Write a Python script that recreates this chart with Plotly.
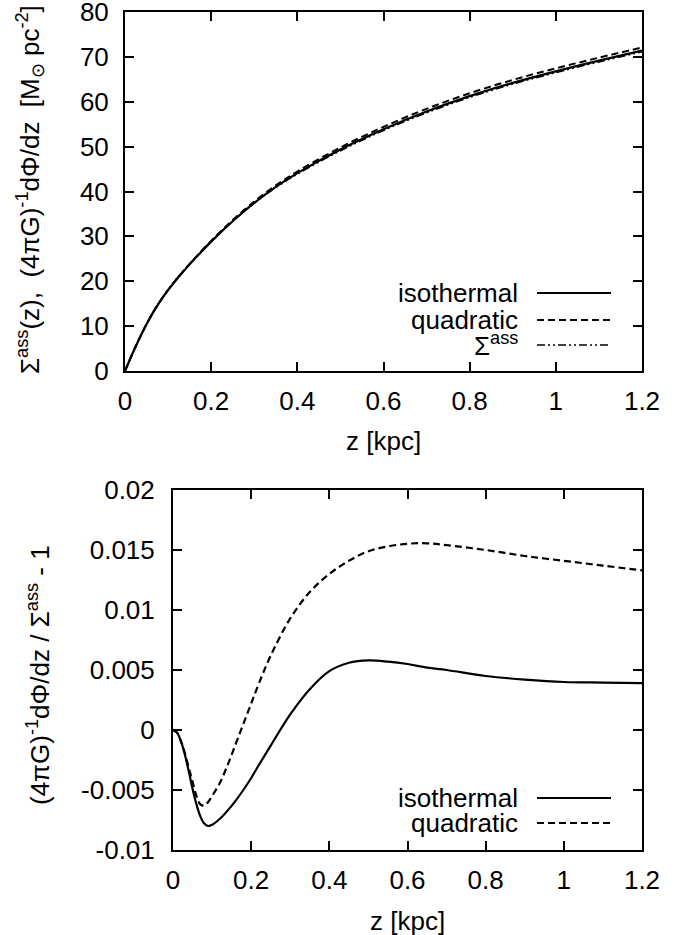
import plotly.graph_objects as go

# ---------------- data ----------------
z_top = [0, 0.025, 0.05, 0.075, 0.1, 0.125, 0.15, 0.2, 0.25, 0.3, 0.35, 0.4, 0.5, 0.6, 0.7, 0.8, 0.9, 1.0, 1.1, 1.2]
sigma_ass = [0, 5.53, 10.49, 14.68, 18.16, 21.17, 23.91, 28.94, 33.42, 37.40, 40.88, 43.88, 49.08, 53.58,
             57.53, 60.98, 63.93, 66.50, 68.88, 71.13]
sigma_iso = [0, 5.52, 10.44, 14.57, 18.02, 21.02, 23.76, 28.83, 33.38, 37.45, 41.02, 44.09, 49.36, 53.87,
             57.82, 61.25, 64.20, 66.77, 69.15, 71.41]
sigma_quad = [0, 5.52, 10.44, 14.59, 18.06, 21.09, 23.86, 29.00, 33.63, 37.75, 41.35, 44.45, 49.81, 54.41,
              58.42, 61.89, 64.86, 67.44, 69.82, 72.08]

z_bot = [0, 0.01, 0.02, 0.03, 0.04, 0.05, 0.06, 0.07, 0.08, 0.09, 0.1, 0.12, 0.14, 0.16, 0.18, 0.2,
         0.22, 0.25, 0.3, 0.35, 0.4, 0.45, 0.5, 0.55, 0.6, 0.65, 0.7, 0.8, 0.9, 1.0, 1.1, 1.2]
dev_iso = [0, -0.0002, -0.0009, -0.0020, -0.0034, -0.0049, -0.0062, -0.0072, -0.0078, -0.0080, -0.0079,
           -0.0074, -0.0067, -0.0059, -0.0050, -0.0040, -0.0029, -0.0013, 0.0013, 0.0034, 0.0049, 0.0056,
           0.0058, 0.0057, 0.0055, 0.0052, 0.0050, 0.0045, 0.0042, 0.0040, 0.00395, 0.0039]
dev_quad = [0, -0.0002, -0.0009, -0.0019, -0.0031, -0.0043, -0.0055, -0.0062, -0.0063, -0.0060, -0.0055,
            -0.0044, -0.0029, -0.0012, 0.0005, 0.0022, 0.0039, 0.0062, 0.0093, 0.0115, 0.0130, 0.0141,
            0.0149, 0.0153, 0.01552, 0.01556, 0.0154, 0.0150, 0.0145, 0.0141, 0.0137, 0.0133]

x_ticks = [0, 0.2, 0.4, 0.6, 0.8, 1, 1.2]
x_ticklabels = ["0", "0.2", "0.4", "0.6", "0.8", "1", "1.2"]
top_yticks = [0, 10, 20, 30, 40, 50, 60, 70, 80]
bot_yticks = [-0.01, -0.005, 0, 0.005, 0.01, 0.015, 0.02]
bot_yticklabels = ["-0.01", "-0.005", "0", "0.005", "0.01", "0.015", "0.02"]

FONT = "Liberation Sans, Arial, sans-serif"
FS = 26
W, H = 694, 935


def px(x):
    return x / W


def py(y):
    return 1 - y / H


DASH = "7px,4px"
DASHDOT2 = "8px,3px,2px,3px,2px,3px"

fig = go.Figure()

fig.add_trace(go.Scatter(x=z_top, y=sigma_ass, mode="lines",
                         line=dict(color="black", width=1.5, dash=DASHDOT2, shape="spline"),
                         xaxis="x", yaxis="y", showlegend=False))
fig.add_trace(go.Scatter(x=z_top, y=sigma_quad, mode="lines",
                         line=dict(color="black", width=2, dash=DASH, shape="spline"),
                         xaxis="x", yaxis="y", showlegend=False))
fig.add_trace(go.Scatter(x=z_top, y=sigma_iso, mode="lines",
                         line=dict(color="black", width=2.2, shape="spline"),
                         xaxis="x", yaxis="y", showlegend=False))

fig.add_trace(go.Scatter(x=z_bot, y=dev_iso, mode="lines",
                         line=dict(color="black", width=2.2, shape="spline"),
                         xaxis="x2", yaxis="y2", showlegend=False))
fig.add_trace(go.Scatter(x=z_bot, y=dev_quad, mode="lines",
                         line=dict(color="black", width=2.2, dash=DASH, shape="spline"),
                         xaxis="x2", yaxis="y2", showlegend=False))

axis_common = dict(showline=True, linecolor="black", linewidth=2, mirror="ticks", ticks="inside",
                   ticklen=9, tickwidth=1.5, tickcolor="black", showgrid=False, zeroline=False,
                   automargin=False, ticklabeloverflow="allow",
                   tickfont=dict(family=FONT, size=FS, color="black"))

fig.update_layout(
    width=W, height=H,
    margin=dict(l=0, r=0, t=0, b=0),
    paper_bgcolor="white", plot_bgcolor="white",
    xaxis=dict(domain=[px(125), px(642)], range=[0, 1.2], anchor="y", tickvals=x_ticks,
               ticktext=x_ticklabels, ticklabelstandoff=6, **axis_common),
    yaxis=dict(domain=[py(371), py(12)], range=[0, 80], anchor="x", tickvals=top_yticks,
               ticklabelstandoff=9, **axis_common),
    xaxis2=dict(domain=[px(173), px(642)], range=[0, 1.2], anchor="y2", tickvals=x_ticks,
                ticktext=x_ticklabels, ticklabelstandoff=6, **axis_common),
    yaxis2=dict(domain=[py(850), py(490)], range=[-0.01, 0.02], anchor="x2", tickvals=bot_yticks,
                ticktext=bot_yticklabels, ticklabelstandoff=11, **axis_common),
)

annotations = []
# axis titles
annotations.append(dict(text="z [kpc]", x=px(383.5), y=py(441), xref="paper", yref="paper",
                        xanchor="center", yanchor="middle",
                        showarrow=False, font=dict(family=FONT, size=FS, color="black")))
annotations.append(dict(text="z [kpc]", x=px(407.5), y=py(921), xref="paper", yref="paper",
                        xanchor="center", yanchor="middle",
                        showarrow=False, font=dict(family=FONT, size=FS, color="black")))
annotations.append(dict(text="Σ<sup>ass</sup>(z),  (4πG)<sup>-1</sup>dΦ/dz  [M<sub>⊙</sub> pc<sup>-2</sup>]",
                        x=px(30), y=py(190), xref="paper", yref="paper", textangle=-90,
                        xanchor="center", yanchor="middle",
                        showarrow=False, font=dict(family=FONT, size=FS, color="black")))
annotations.append(dict(text="(4πG)<sup>-1</sup>dΦ/dz / Σ<sup>ass</sup> - 1",
                        x=px(38), y=py(675), xref="paper", yref="paper", textangle=-90,
                        xanchor="center", yanchor="middle",
                        showarrow=False, font=dict(family=FONT, size=FS, color="black")))

# custom legends (text right-aligned, line sample to the right)
shapes = []


def legend_row(label, ycen, dash, width):
    annotations.append(dict(text=label, x=px(520), y=py(ycen), xref="paper", yref="paper",
                            xanchor="right", yanchor="middle", showarrow=False,
                            font=dict(family=FONT, size=FS, color="black")))
    shapes.append(dict(type="line", xref="paper", yref="paper", x0=px(537), x1=px(611),
                       y0=py(ycen), y1=py(ycen), line=dict(color="black", width=width, dash=dash)))


legend_row("isothermal", 293, "solid", 2.2)
legend_row("quadratic", 320, DASH, 2.2)
legend_row("Σ<sup>ass</sup>", 345, DASHDOT2, 1.5)
legend_row("isothermal", 798, "solid", 2.2)
legend_row("quadratic", 823, DASH, 2.2)

fig.update_layout(annotations=annotations, shapes=shapes)

fig.write_html("out.html", config={"displayModeBar": False},
               post_script="document.body.style.margin='0px';document.body.style.overflow='hidden';")
